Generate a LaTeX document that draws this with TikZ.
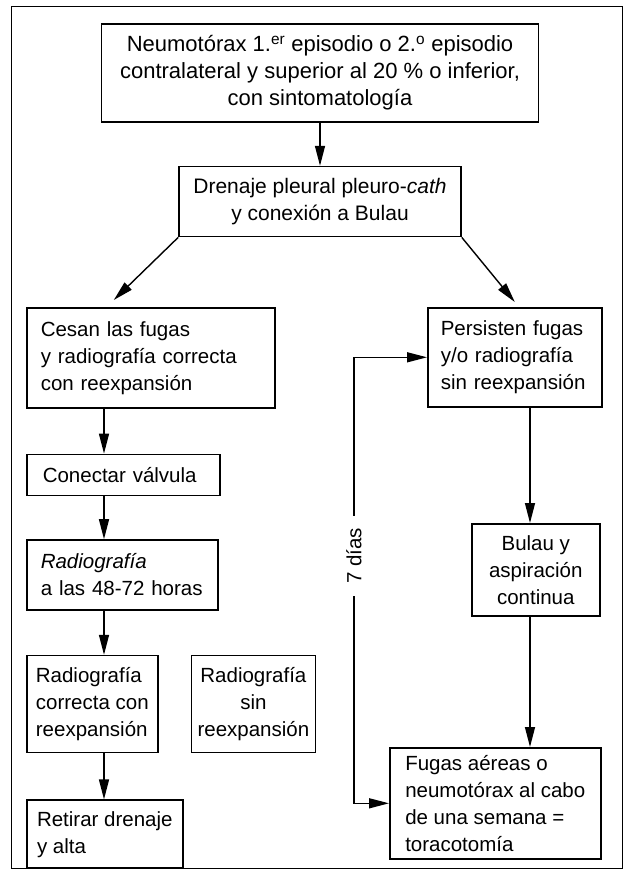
\documentclass[tikz,border=0pt]{standalone}
\usepackage{fontspec}
\setmainfont{Liberation Sans}
\usetikzlibrary{arrows.meta,positioning}

\begin{document}
\begin{tikzpicture}[
  x=1pt, y=-1pt,
  box/.style={rectangle, draw, line width=1.6pt, align=center, inner sep=4pt, font=\fontsize{20.5}{27}\selectfont},
  lbox/.style 2 args={box, align=left, text width=#1, inner xsep=#2},
  arr/.style={-{Triangle[length=20pt,width=10pt]}, line width=1.4pt}
]
\useasboundingbox (0,0) rectangle (624,879);
\draw[line width=0.8pt] (11,6) rectangle (622,868);

% centre column
\node[box, minimum width=437pt, minimum height=98pt, font=\fontsize{22}{27}\selectfont] (neumo) at (320,73)
  {Neumotórax 1.\textsuperscript{er} episodio o 2.\textsuperscript{o} episodio\\contralateral y superior al 20~\% o inferior,\\con sintomatología};
\node[box, minimum width=282pt, minimum height=70pt, font=\fontsize{21}{27}\selectfont, below=43pt of neumo] (drenaje)
  {Drenaje pleural pleuro-\textit{cath}\\y conexión a Bulau};

% left branch
\node[lbox={220pt}{14pt}, minimum height=100pt, anchor=north west] (cesan) at (26,307)
  {Cesan las fugas\\y radiografía correcta\\con reexpansión};
\node[lbox={161pt}{16pt}, minimum height=41pt, below=45pt of cesan.south west, anchor=north west] (valvula)
  {Conectar válvula};
\node[lbox={163pt}{14pt}, minimum height=70pt, below=43pt of valvula.south west, anchor=north west] (rx48)
  {\textit{Radiografía}\\a las 48-72 horas};
\node[box, align=left, minimum width=131pt, minimum height=97pt, below=44pt of rx48.south west, anchor=north west] (rxok)
  {Radiografía\\correcta con\\reexpansión};
\node[box, minimum width=124pt, minimum height=97pt, right=32pt of rxok.north east, anchor=north west] (rxno)
  {Radiografía\\sin\\reexpansión};
\node[box, align=left, minimum width=156pt, minimum height=68pt, below=46pt of rxok.south west, anchor=north west] (alta)
  {Retirar drenaje\\y alta};

% right branch
\node[lbox={148pt}{13pt}, minimum height=99pt, anchor=north west] (persist) at (427,307)
  {Persisten fugas\\y/o radiografía\\sin reexpansión};
\node[box, minimum width=128pt, minimum height=92pt, anchor=north west] (bulau) at (471,523)
  {Bulau y\\aspiración\\continua};
\node[box, align=left, minimum width=211pt, minimum height=111pt, anchor=north west] (toraco) at (389,747)
  {Fugas aéreas o\\neumotórax al cabo\\de una semana =\\toracotomía};
\node[rotate=90, inner xsep=12pt, inner ysep=2pt, font=\fontsize{20.5}{27}\selectfont] (dias) at (354,556) {7 días};

\coordinate (lcol) at (104,0);
\coordinate (rcol) at (530,0);

\draw[arr] (neumo) -- (drenaje);
\draw[arr] (drenaje.south west) -- ([xshift=-37pt,yshift=7pt]cesan.north);
\draw[arr] (drenaje.south east) -- ([yshift=5pt]persist.north);
\draw[arr] (cesan.south -| lcol) -- (valvula.north -| lcol);
\draw[arr] (valvula.south -| lcol) -- (rx48.north -| lcol);
\draw[arr] (rx48.south -| lcol) -- (rxok.north -| lcol);
\draw[arr] (rxok.south -| lcol) -- (alta.north -| lcol);
\draw[arr] (persist.south -| rcol) -- (bulau.north -| rcol);
\draw[arr] (bulau.south -| rcol) -- (toraco.north -| rcol);
\draw[arr] (dias.east) |- (persist.west);
\draw[arr] (dias.west) |- (toraco.west);
\end{tikzpicture}
\end{document}
